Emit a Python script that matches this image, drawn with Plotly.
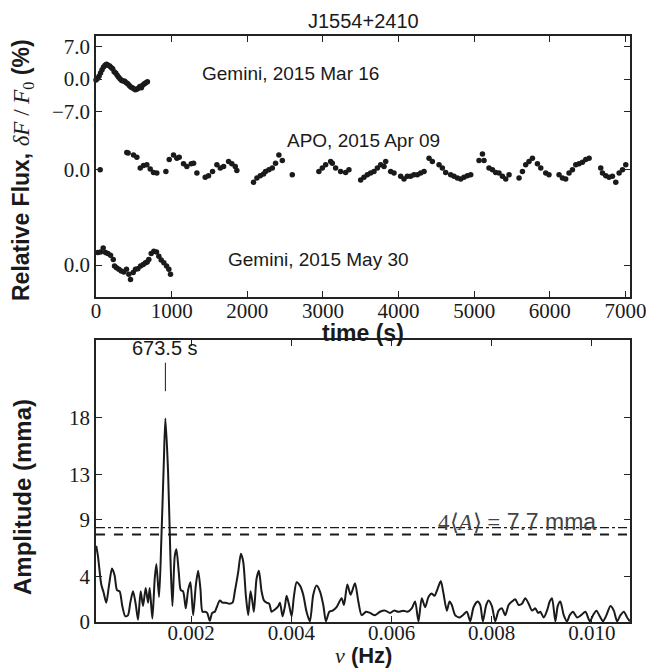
import plotly.graph_objects as go

# ---------------- Light curves (time in s, relative flux in %) ----------------
t_mar = [0, 20, 40, 60, 80, 100, 120, 140, 160, 180, 200, 220, 240, 260, 280, 300, 320, 340,
         360, 380, 400, 420, 440, 460, 480, 500, 520, 540, 560, 580, 600, 620, 640, 660, 680]
f_mar = [-0.2, 0.1, 0.6, 1.3, 2.0, 2.6, 3.0, 3.2, 3.0, 2.8, 2.5, 2.2, 1.6, 1.3, 0.8, 0.4, 0.0, -0.3,
         -0.4, -0.5, -0.8, -1.0, -1.4, -1.7, -1.9, -2.1, -2.3, -2.2, -2.0, -1.6, -1.9, -1.3, -1.0, -0.8, -0.6]

t_apo = [55, 407, 425, 496, 540, 585, 628, 672, 717, 760, 804, 924, 968, 1025, 1069, 1100,
         1157, 1201, 1259, 1290, 1334, 1444, 1488, 1541, 1598, 1643, 1687, 1753, 1796, 1841, 1862,
         2083, 2127, 2172, 2215, 2242, 2286, 2331, 2374, 2418, 2463, 2595,
         2947, 2992, 3036, 3102, 3124, 3168, 3234, 3300, 3344,
         3499, 3543, 3587, 3631, 3675, 3720, 3764, 3808, 3830, 3896, 3940,
         4028, 4072, 4116, 4160, 4204, 4249, 4293, 4337, 4403, 4447, 4535, 4579, 4623,
         4689, 4733, 4778, 4822, 4865, 4910, 4954, 5064, 5109, 5130,
         5196, 5241, 5284, 5328, 5373, 5417, 5461,
         5593, 5638, 5681, 5725, 5770, 5836, 5880, 5946, 5989,
         6122, 6167, 6210, 6254, 6299, 6343, 6386, 6431, 6475, 6519,
         6673, 6696, 6740, 6783, 6828, 6872, 6916, 6961, 7004]
f_apo = [0.0, 3.7, 3.6, 3.2, 2.7, 0.4, 0.9, 1.1, 0.15, -0.6, -0.7, -0.4, 2.2, 3.2, 2.5, 2.7,
         1.3, 0.7, 1.3, 1.4, -0.7, -1.6, -1.3, -0.4, 1.1, 0.4, 0.7, 1.8, 1.3, 0.7, -0.15,
         -2.7, -1.8, -1.3, -0.9, -0.4, 0.0, 0.4, 1.4, 3.2, 2.0, -1.1,
         -0.4, 0.4, 1.1, 1.8, 1.4, 0.4, -0.4, -0.6, 0.0,
         -2.2, -1.6, -1.1, -0.7, -0.4, 0.4, 1.1, 0.7, 1.8, -0.4, -0.7,
         -1.4, -2.0, -1.4, -1.4, -1.1, -1.1, -0.7, -0.4, 2.5, 1.8, 1.1, 0.4, -0.6,
         -1.1, -1.4, -1.8, -2.0, -1.6, -1.3, -1.1, 2.0, 3.4, 2.0,
         0.4, 0.0, -0.6, -0.7, -1.4, -2.0, -1.1,
         -1.8, -0.4, 1.1, 1.8, 2.5, 1.3, 0.4, -0.7, -1.1,
         -1.1, -1.8, -2.0, -0.7, 0.0, 1.1, 1.3, 1.6, 2.2, 2.5,
         0.4, -0.7, -1.3, -1.6, -1.4, -2.7, -0.7, 0.0, 1.1]

t_may = [24, 60, 95, 126, 156, 192, 228, 245, 271, 302, 333, 368, 403, 434, 456, 492, 522, 553,
         589, 624, 655, 677, 698, 730, 765, 800, 831, 862, 897, 933, 963, 985]
f_may = [2.7, 2.8, 3.7, 2.7, 2.5, 2.1, 1.2, -0.2, -0.6, -0.9, -1.3, -1.5, -0.9, -2.0, -3.1, -1.6,
         -0.9, -0.8, -0.2, 0.15, 0.5, 0.65, 1.2, 2.5, 3.0, 2.8, 1.9, 1.1, 0.5, -0.2, -0.9, -2.0]

offsets = [0, -19.6, -40.2]
lc_labels = ["Gemini, 2015 Mar 16", "APO, 2015 Apr 09", "Gemini, 2015 May 30"]

top_tickvals = [7, 0, -7, -19.6, -40.2]
top_ticktext = ["7.0", "0.0", "\u22127.0", "0.0", "0.0"]
time_ticks = [0, 1000, 2000, 3000, 4000, 5000, 6000, 7000]

# ---------------- Periodogram (Hz, mma) ----------------
freq = [0.000105, 0.000139, 0.000205, 0.000252, 0.000305, 0.000359, 0.000419, 0.000472, 0.000519,
        0.000572, 0.000625, 0.000685, 0.000739, 0.000785, 0.000839, 0.000892, 0.000939, 0.000992,
        0.001039, 0.001092, 0.001139, 0.001172, 0.001225, 0.001272, 0.001305, 0.001359, 0.001405,
        0.001452, 0.001485, 0.001539, 0.001585, 0.001625, 0.001672, 0.001705, 0.001752, 0.001792,
        0.001839, 0.001892, 0.001939, 0.001985, 0.002039, 0.002092, 0.002139, 0.002185, 0.002225,
        0.002272, 0.002319, 0.002372, 0.002419, 0.002472, 0.002519, 0.002572, 0.002625, 0.002692,
        0.002759, 0.002825, 0.002872, 0.002939, 0.002992, 0.003039, 0.003092, 0.003139, 0.003185,
        0.003225, 0.003252, 0.003305, 0.003352, 0.003405, 0.003452, 0.003505, 0.003559, 0.003605,
        0.003672, 0.003739, 0.003772, 0.003825, 0.003872, 0.003905, 0.003959, 0.004005, 0.004052,
        0.004105, 0.004172, 0.004237, 0.004303, 0.004370, 0.004437, 0.004503, 0.004570, 0.004637,
        0.004690, 0.004757, 0.004823, 0.004903, 0.005003, 0.005050, 0.005117, 0.005183, 0.005270,
        0.005337, 0.005403, 0.005490, 0.005570, 0.005670, 0.005770, 0.005870, 0.005970, 0.006050,
        0.006137, 0.006237, 0.006317, 0.006403, 0.006470, 0.006537, 0.006603, 0.006670, 0.006737,
        0.006803, 0.006857, 0.006917, 0.006983, 0.007037, 0.007103, 0.007157, 0.007203, 0.007270,
        0.007357, 0.007423, 0.007503, 0.007570, 0.007637, 0.007717, 0.007770, 0.007823, 0.007890,
        0.007937, 0.008003, 0.008070, 0.008137, 0.008203, 0.008270, 0.008337, 0.008403, 0.008470,
        0.008537, 0.008603, 0.008670, 0.008737, 0.008803, 0.008870, 0.008923, 0.008970, 0.009037,
        0.009103, 0.009157, 0.009203, 0.009270, 0.009317, 0.009370, 0.009437, 0.009503, 0.009557,
        0.009623, 0.009703, 0.009783, 0.009870, 0.009957, 0.010023, 0.010090, 0.010157, 0.010223,
        0.010290, 0.010370, 0.010437, 0.010503, 0.010570, 0.010637, 0.010703, 0.010757]
amp = [6.7, 5.8, 3.3, 2.6, 1.7, 3.2, 4.7, 4.1, 2.8,
       2.7, 1.4, 0.5, 0.6, 1.7, 2.7, 1.6, 0.2, 2.7,
       1.4, 3.0, 1.7, 3.0, 0.3, 3.8, 5.1, 2.2, 7.3,
       13.8, 17.9, 13.2, 5.8, 1.4, 5.8, 6.4, 4.4, 2.8,
       2.7, 1.2, 2.8, 3.5, 0.6, 3.2, 4.5, 2.9, 0.9,
       0.9, 0.8, 0.1, 0.8, 0.9, 1.4, 1.9, 1.7, 1.7,
       1.6, 1.7, 2.7, 4.4, 6.0, 5.3, 2.3, 0.6, 2.7,
       1.7, 0.9, 3.8, 4.5, 2.7, 1.9, 1.7, 1.6, 0.9,
       1.1, 1.4, 1.7, 0.5, 1.4, 2.3, 1.4, 0.5, 2.3,
       3.5, 3.2, 2.4, 0.9, 0.06, 2.4, 3.2, 2.7, 1.5,
       0.06, 0.9, 1.0, 1.3, 2.1, 1.5, 3.3, 2.4, 3.4,
       1.8, 0.6, 0.9, 0.8, 0.6, 0.9, 1.0, 0.8, 1.0,
       0.9, 1.0, 0.9, 1.2, 1.8, 0.06, 2.1, 1.3, 2.2,
       2.5, 2.3, 2.9, 3.6, 2.5, 1.0, 1.8, 1.5, 0.6,
       0.4, 0.6, 0.9, 0.06, 1.3, 1.8, 1.5, 0.06, 1.5,
       1.9, 1.4, 0.06, 1.0, 1.2, 0.6, 1.5, 1.8, 2.0,
       1.5, 1.6, 2.1, 1.6, 1.0, 1.2, 0.8, 0.9, 0.4,
       1.0, 1.8, 2.1, 0.06, 1.4, 1.8, 0.6, 0.06, 0.6,
       0.9, 0.4, 0.6, 0.9, 0.06, 0.6, 1.0, 0.5, 0.06,
       0.6, 1.4, 1.0, 0.06, 0.6, 0.9, 0.4, 0.06]

mean_amp_4 = 7.7          # 4<A> threshold, mma
fap_level = 8.3           # upper dash-dot threshold, mma
peak_freq = 0.001485      # 673.5 s
peak_label = "673.5 s"
amp_tickvals = [0, 4, 9, 13, 18]
amp_ticktext = ["0", "4", "9", "13", "18"]
freq_ticks = [0.002, 0.004, 0.006, 0.008, 0.010]

SERIF = "Liberation Serif"
SANS = "Liberation Sans"
INK = "#1a1a1a"

fig = go.Figure()

for t, f, off in zip([t_mar, t_apo, t_may], [f_mar, f_apo, f_may], offsets):
    fig.add_trace(go.Scatter(x=t, y=[v + off for v in f], mode="markers",
                             marker=dict(color=INK, size=5.5), xaxis="x", yaxis="y",
                             showlegend=False, hoverinfo="skip", cliponaxis=False))

fig.add_trace(go.Scatter(x=freq, y=amp, mode="lines",
                         line=dict(color=INK, width=2, shape="spline", smoothing=0.7),
                         xaxis="x2", yaxis="y2", showlegend=False, hoverinfo="skip"))

xr2 = [0.0001, 0.01076]
fig.add_shape(type="line", xref="x2", yref="y2", x0=xr2[0], x1=xr2[1], y0=mean_amp_4, y1=mean_amp_4,
              line=dict(color=INK, width=2, dash="dash"))
fig.add_shape(type="line", xref="x2", yref="y2", x0=xr2[0], x1=xr2[1], y0=fap_level, y1=fap_level,
              line=dict(color=INK, width=1.3, dash="dashdot"))
fig.add_shape(type="line", xref="x2", yref="y2", x0=peak_freq, x1=peak_freq, y0=20.3, y1=22.8,
              line=dict(color=INK, width=1))

axis_common = dict(showline=True, linecolor="#222", linewidth=1.5, mirror="allticks",
                   ticks="inside", ticklen=6, tickwidth=1, tickcolor="#222",
                   showgrid=False, zeroline=False, automargin=False,
                   ticklabeloverflow="allow",
                   tickfont=dict(family=SERIF, size=21, color=INK))

TOP_DOM = [0.5546, 1]
BOT_DOM = [0, 0.4812]

fig.update_layout(
    width=646, height=669,
    margin=dict(l=96, r=16, t=36, b=47),
    paper_bgcolor="white", plot_bgcolor="white",
    xaxis=dict(axis_common, domain=[0, 1], anchor="y", range=[0, 7060],
               tickvals=time_ticks, ticktext=[str(v) for v in time_ticks], ticklabelstandoff=-6),
    yaxis=dict(axis_common, domain=TOP_DOM, anchor="x", range=[-47.1, 9.3],
               tickvals=top_tickvals, ticktext=top_ticktext),
    xaxis2=dict(axis_common, domain=[0, 1], anchor="y2", range=xr2,
                tickvals=freq_ticks, ticktext=["0.002", "0.004", "0.006", "0.008", "0.010"],
                ticklabelstandoff=-9),
    yaxis2=dict(axis_common, domain=BOT_DOM, anchor="x2", range=[0, 24.8],
                tickvals=amp_tickvals, ticktext=amp_ticktext),
)

TITLE_FONT = dict(family=SANS, size=23, color=INK)

# Axis titles as annotations
fig.add_annotation(text="<b>time (s)</b>", xref="paper", yref="paper", x=0.5, y=TOP_DOM[0],
                   yshift=-36, xanchor="center", yanchor="middle", showarrow=False, font=TITLE_FONT)
fig.add_annotation(text="<span style='font-family:Liberation Serif'><i>\u03bd</i></span> <b>(Hz)</b>",
                   xref="paper", yref="paper", x=0.5, y=0, yshift=-33,
                   xanchor="center", yanchor="middle", showarrow=False,
                   font=dict(family=SANS, size=22, color=INK))
fig.add_annotation(text="<b>Relative Flux,</b> <span style='font-family:Liberation Serif'><i>\u03b4F</i> / <i>F</i><sub>0</sub></span> <b>(%)</b>",
                   xref="paper", yref="paper", x=0, y=0.7713, xshift=-74, textangle=-90,
                   xanchor="center", yanchor="middle", showarrow=False, font=TITLE_FONT)
fig.add_annotation(text="<b>Amplitude (mma)</b>", xref="paper", yref="paper", x=0, y=0.2133,
                   xshift=-74, textangle=-90, xanchor="center", yanchor="middle",
                   showarrow=False, font=dict(family=SANS, size=24, color=INK))

# Title
fig.add_annotation(text="J1554+2410", xref="paper", yref="paper", x=0.5, y=1.0, yshift=2,
                   xanchor="center", yanchor="bottom", showarrow=False,
                   font=dict(family=SANS, size=20, color=INK))

# Light-curve labels
lab_pos = [(2578, 1.1), (3530, -13.2), (2935, -38.9)]
for lab, (lx, ly) in zip(lc_labels, lab_pos):
    fig.add_annotation(text=lab, x=lx, y=ly, xref="x", yref="y", showarrow=False,
                       xanchor="center", yanchor="middle", font=dict(family=SANS, size=19, color=INK))

# Peak label
fig.add_annotation(text=peak_label, x=peak_freq, y=24.1, xref="x2", yref="y2", showarrow=False,
                   xanchor="center", yanchor="middle", font=dict(family=SANS, size=20, color=INK))

# Threshold label
fig.add_annotation(text="<span style='font-family:Liberation Serif'>4\u27e8<i>A</i>\u27e9 =</span> 7.7 mma",
                   x=0.01013, y=mean_amp_4 - 0.2, xref="x2", yref="y2", showarrow=False,
                   xanchor="right", yanchor="bottom", font=dict(family=SANS, size=23, color="#444"))

fig.write_html("out.html")
